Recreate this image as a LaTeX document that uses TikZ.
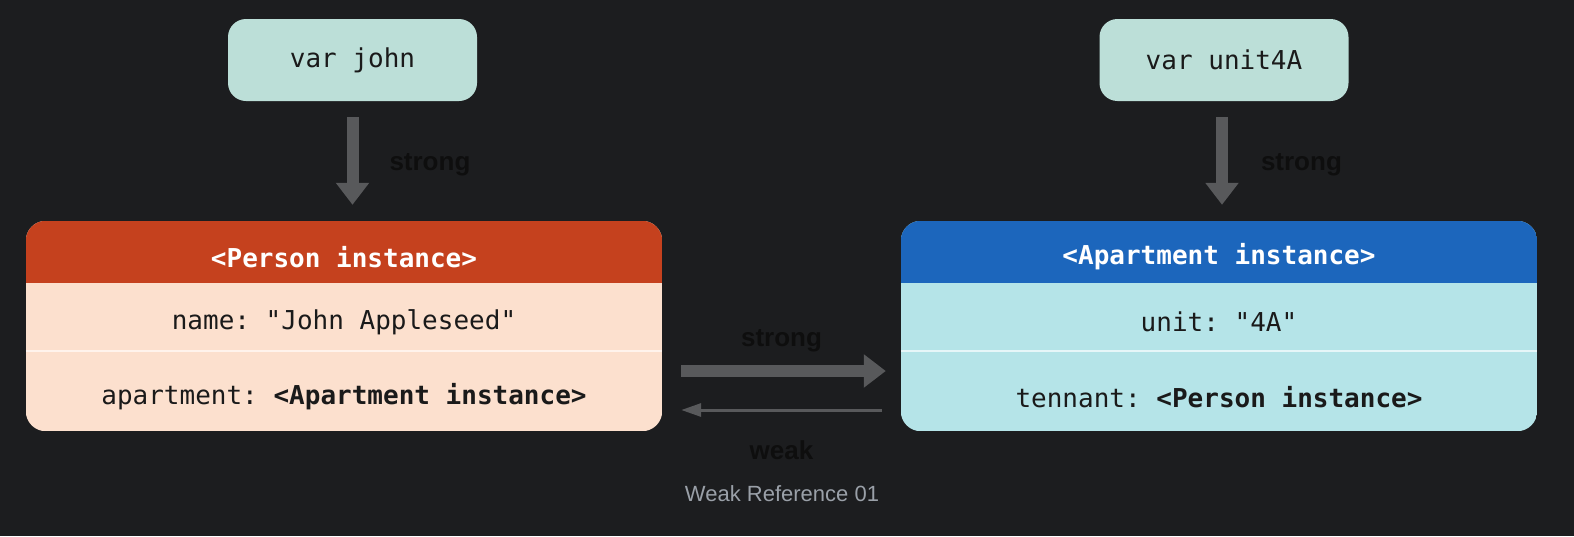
\documentclass[tikz,border=0pt]{standalone}
\usepackage{fontspec}
\setmainfont{Liberation Sans}
\newfontfamily\monof{DejaVu Sans Mono}
\usetikzlibrary{arrows.meta,calc}
\frenchspacing
\definecolor{bgc}{HTML}{1C1D1F}
\definecolor{varc}{HTML}{BCDFD8}
\definecolor{arrc}{HTML}{58595B}
\definecolor{lblc}{HTML}{0E0E0E}
\definecolor{phdr}{HTML}{C5411E}
\definecolor{pbody}{HTML}{FCE0CE}
\definecolor{pdiv}{HTML}{FFF3EC}
\definecolor{ahdr}{HTML}{1C66BC}
\definecolor{abody}{HTML}{B5E4E8}
\definecolor{adiv}{HTML}{E6F6F8}
\definecolor{capc}{HTML}{9AA0A8}
\definecolor{txtc}{HTML}{1A1A1A}
\tikzset{
  varbox/.style={fill=varc, rounded corners=18pt, minimum width=249pt, minimum height=82pt, inner sep=0pt,
    text=txtc, font=\monof\fontsize{26}{30}\selectfont},
  instbox/.style={minimum width=636pt, minimum height=210pt, inner sep=0pt},
  hdrtxt/.style={text=white, inner sep=0pt, font=\monof\bfseries\fontsize{26}{30}\selectfont},
  rowtxt/.style={text=txtc, inner sep=0pt, font=\monof\fontsize{26}{30}\selectfont},
  lbl/.style={text=lblc, inner sep=0pt, font=\bfseries\fontsize{26}{30}\selectfont},
  strongarrow/.style={draw=arrc, line width=12pt, -{Triangle[length=22pt,width=32pt]}},
  weakarrow/.style={draw=arrc, line width=3pt, -{Triangle[length=20pt,width=13pt]}},
  capt/.style={text=capc, inner sep=0pt, font=\fontsize{22}{26}\selectfont}
}
\begin{document}
\begin{tikzpicture}[x=1pt,y=-1pt]
\fill[bgc] (0,0) rectangle (1574,536);
\useasboundingbox (0,0) rectangle (1574,536);

% variable boxes
\node[varbox] (john) at (352.5,60) {var john};
\node[varbox] (unit) at (1224,60) {var unit4A};

% instance boxes
\node[instbox] (person) at (344,326) {};
\node[instbox] (apt) at (1219,326) {};

\begin{scope}
  \clip[rounded corners=20pt] (person.north west) rectangle (person.south east);
  \fill[pbody] (person.north west) rectangle (person.south east);
  \fill[phdr] (person.north west) rectangle ($(person.north east)+(0,62)$);
  \draw[pdiv, line width=2pt] ($(person.north west)+(0,130)$) -- ($(person.north east)+(0,130)$);
\end{scope}
\begin{scope}
  \clip[rounded corners=20pt] (apt.north west) rectangle (apt.south east);
  \fill[abody] (apt.north west) rectangle (apt.south east);
  \fill[ahdr] (apt.north west) rectangle ($(apt.north east)+(0,62)$);
  \draw[adiv, line width=2pt] ($(apt.north west)+(0,130)$) -- ($(apt.north east)+(0,130)$);
\end{scope}

\node[hdrtxt] (ptitle) at ($(person.north)+(0,36)$) {<Person instance>};
\node[rowtxt] (pname) at ($(person.north)+(0,101)$) {name: "John Appleseed"};
\node[rowtxt] (papt) at ($(person.north)+(0,176)$) {apartment: \textbf{<Apartment instance>}};

\node[hdrtxt] (atitle) at ($(apt.north)+(0,36)$) {<Apartment instance>};
\node[rowtxt] (aunit) at ($(apt.north)+(0,101)$) {unit: "4A"};
\node[rowtxt] (aten) at ($(apt.north)+(0,176)$) {tennant: \textbf{<Person instance>}};

% vertical strong arrows
\draw[strongarrow, shorten <=16pt, shorten >=16pt] (john.south) -- (john.south |- person.north)
  node[midway, lbl, anchor=west, xshift=31pt, yshift=-4pt] {strong};
\draw[strongarrow, shorten <=16pt, shorten >=16pt] ([xshift=-2pt]unit.south) -- ([xshift=-2pt]unit.south |- apt.north)
  node[midway, lbl, anchor=west, xshift=33pt, yshift=-4pt] {strong};

% horizontal arrows
\draw[strongarrow, shorten <=19pt, shorten >=15pt] ($(person.east)+(0,45)$) -- ($(apt.west)+(0,45)$)
  node[midway, lbl, yshift=30pt] {strong};
\draw[weakarrow, shorten <=19pt, shorten >=19pt] ($(apt.west)+(0,84)$) -- ($(person.east)+(0,84)$)
  node[midway, lbl, yshift=-40pt] {weak};

\node[capt] (caption) at (782,494) {Weak Reference 01};
\end{tikzpicture}
\end{document}
